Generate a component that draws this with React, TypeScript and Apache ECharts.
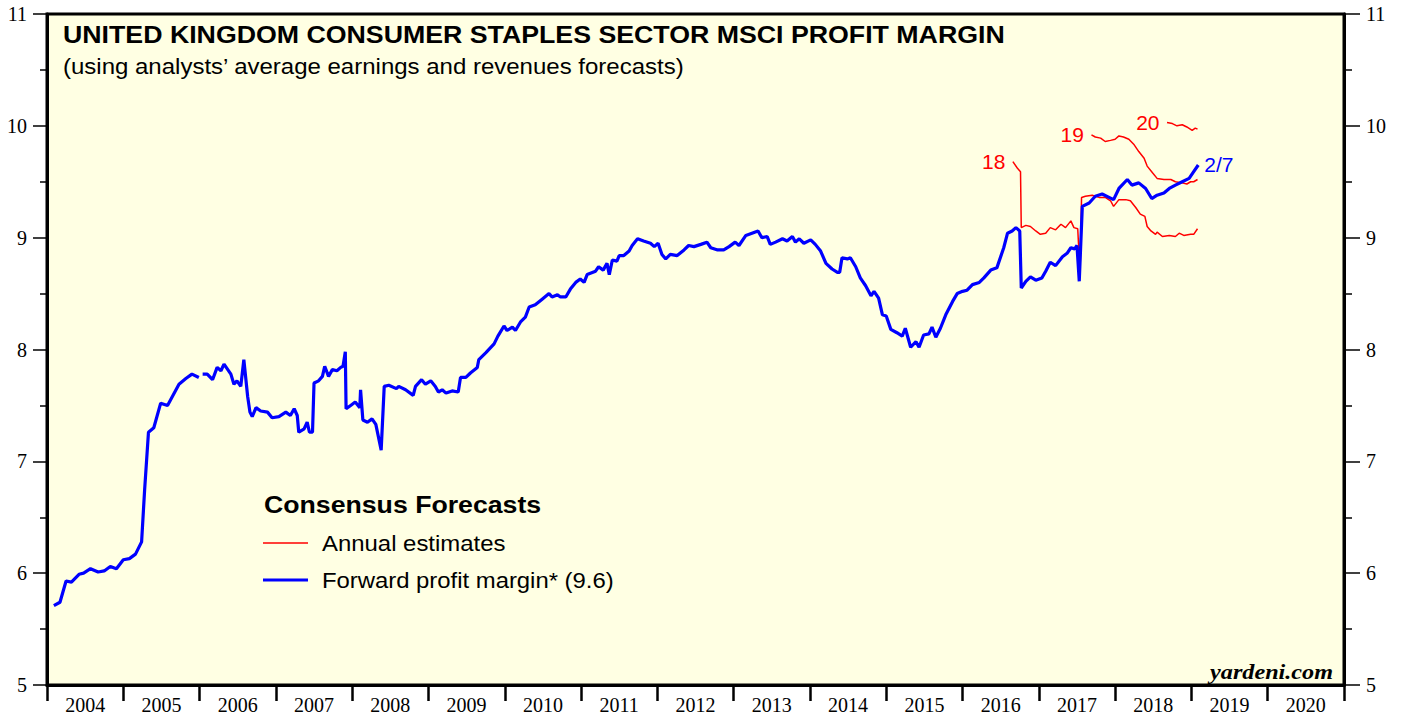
import React, { useEffect, useRef } from "react";
import * as echarts from "echarts";

const yearLabels = ["2004","2005","2006","2007","2008","2009","2010","2011","2012","2013","2014","2015","2016","2017","2018","2019","2020"];

const forwardDates = [2004.09,2004.17,2004.25,2004.32,2004.42,2004.48,2004.57,2004.67,2004.75,2004.83,2004.91,2005.00,2005.08,2005.16,2005.24,2005.28,2005.33,2005.40,2005.49,2005.58,2005.73,2005.82,2005.90,2005.99,2006.02,2006.04,2006.10,2006.17,2006.23,2006.28,2006.32,2006.41,2006.45,2006.49,2006.54,2006.58,2006.63,2006.66,2006.69,2006.74,2006.80,2006.89,2006.95,2007.04,2007.13,2007.19,2007.24,2007.28,2007.30,2007.37,2007.41,2007.44,2007.48,2007.50,2007.56,2007.61,2007.64,2007.69,2007.74,2007.80,2007.85,2007.88,2007.91,2007.92,2007.98,2008.04,2008.10,2008.11,2008.14,2008.20,2008.26,2008.31,2008.38,2008.42,2008.48,2008.58,2008.61,2008.70,2008.80,2008.83,2008.91,2008.96,2009.03,2009.09,2009.13,2009.18,2009.23,2009.31,2009.39,2009.42,2009.49,2009.55,2009.64,2009.66,2009.75,2009.86,2009.91,2009.99,2010.03,2010.10,2010.14,2010.21,2010.27,2010.32,2010.40,2010.49,2010.58,2010.62,2010.69,2010.73,2010.80,2010.86,2010.93,2010.99,2011.04,2011.08,2011.19,2011.23,2011.29,2011.34,2011.37,2011.41,2011.47,2011.50,2011.56,2011.63,2011.67,2011.74,2011.82,2011.91,2011.96,2012.01,2012.06,2012.11,2012.17,2012.26,2012.35,2012.41,2012.48,2012.57,2012.65,2012.70,2012.79,2012.87,2012.94,2013.02,2013.07,2013.16,2013.24,2013.32,2013.37,2013.44,2013.48,2013.55,2013.64,2013.70,2013.77,2013.81,2013.86,2013.92,2014.01,2014.07,2014.14,2014.21,2014.29,2014.36,2014.39,2014.42,2014.49,2014.53,2014.60,2014.66,2014.73,2014.80,2014.84,2014.90,2014.95,2015.00,2015.06,2015.14,2015.21,2015.25,2015.32,2015.39,2015.43,2015.49,2015.56,2015.60,2015.65,2015.71,2015.78,2015.87,2015.93,2016.00,2016.06,2016.13,2016.22,2016.28,2016.37,2016.45,2016.54,2016.59,2016.65,2016.70,2016.75,2016.77,2016.83,2016.89,2016.96,2017.04,2017.09,2017.15,2017.22,2017.31,2017.37,2017.42,2017.47,2017.50,2017.53,2017.57,2017.66,2017.74,2017.83,2017.92,2017.98,2018.05,2018.16,2018.22,2018.31,2018.40,2018.48,2018.55,2018.64,2018.71,2018.79,2018.88,2018.97,2019.03,2019.09];
const forwardMargin = [5.71,5.74,5.93,5.92,5.99,6.00,6.04,6.01,6.02,6.06,6.04,6.12,6.13,6.17,6.28,6.75,7.26,7.30,7.52,7.50,7.69,7.74,7.78,7.75,null,7.78,7.78,7.73,7.84,7.81,7.87,7.78,7.69,7.72,7.67,7.91,7.58,7.44,7.40,7.48,7.45,7.44,7.39,7.40,7.44,7.41,7.47,7.41,7.26,7.29,7.35,7.26,7.26,7.70,7.72,7.76,7.85,7.76,7.82,7.81,7.84,7.85,7.98,7.47,7.50,7.53,7.48,7.64,7.37,7.35,7.38,7.33,7.10,7.67,7.68,7.65,7.67,7.64,7.59,7.67,7.73,7.69,7.72,7.67,7.62,7.64,7.61,7.63,7.62,7.75,7.75,7.79,7.84,7.91,7.97,8.05,8.12,8.21,8.17,8.20,8.17,8.25,8.29,8.38,8.40,8.45,8.50,8.47,8.49,8.47,8.47,8.54,8.60,8.63,8.60,8.67,8.70,8.74,8.71,8.77,8.67,8.80,8.79,8.84,8.84,8.88,8.93,8.99,8.97,8.95,8.92,8.95,8.85,8.81,8.85,8.84,8.89,8.93,8.92,8.94,8.96,8.91,8.89,8.89,8.92,8.96,8.93,9.02,9.04,9.06,9.00,9.01,8.94,8.96,8.99,8.97,9.01,8.96,8.99,8.95,8.98,8.94,8.88,8.77,8.72,8.69,8.69,8.82,8.81,8.82,8.74,8.64,8.57,8.48,8.52,8.46,8.31,8.30,8.18,8.15,8.12,8.19,8.02,8.07,8.02,8.13,8.14,8.20,8.11,8.19,8.31,8.43,8.50,8.52,8.53,8.58,8.60,8.64,8.71,8.73,8.91,9.04,9.06,9.09,9.06,8.55,8.61,8.65,8.62,8.64,8.70,8.78,8.75,8.83,8.86,8.91,8.90,8.93,8.61,9.28,9.31,9.37,9.39,9.36,9.34,9.44,9.52,9.47,9.49,9.44,9.35,9.38,9.40,9.44,9.47,9.50,9.53,9.59,9.65];

const est18Dates = [2016.66,2016.72,2016.76,2016.77,2016.83,2016.89,2016.96,2017.02,2017.09,2017.15,2017.22,2017.29,2017.35,2017.42,2017.46,2017.51,2017.54,2017.56,2017.61,2017.70,2017.79,2017.87,2017.94,2017.98,2018.05,2018.14,2018.20,2018.27,2018.33,2018.39,2018.42,2018.47,2018.53,2018.55,2018.62,2018.71,2018.79,2018.84,2018.90,2018.99,2019.03,2019.08];
const est18Values = [9.68,9.62,9.59,9.09,9.11,9.10,9.06,9.03,9.04,9.09,9.07,9.12,9.09,9.15,9.09,9.08,8.68,9.36,9.37,9.38,9.36,9.36,9.33,9.28,9.34,9.34,9.33,9.27,9.21,9.19,9.10,9.06,9.03,9.05,9.01,9.02,9.01,9.04,9.02,9.03,9.03,9.08];

const est19Dates = [2017.69,2017.74,2017.81,2017.87,2017.94,2018.00,2018.05,2018.11,2018.18,2018.25,2018.31,2018.38,2018.42,2018.49,2018.55,2018.64,2018.73,2018.79,2018.88,2018.94,2018.99,2019.03,2019.08];
const est19Values = [9.92,9.90,9.89,9.86,9.87,9.88,9.91,9.90,9.88,9.83,9.77,9.71,9.64,9.58,9.53,9.52,9.52,9.50,9.49,9.48,9.50,9.50,9.52];

const est20Dates = [2018.68,2018.75,2018.81,2018.88,2018.94,2019.01,2019.05,2019.08];
const est20Values = [10.03,10.02,10.00,10.01,9.99,9.96,9.98,9.97];

const SERIF = '"Liberation Serif", "Times New Roman", serif';
const SANS = '"Liberation Sans", Arial, Helvetica, sans-serif';
const RED = "#FF0000";
const BLUE = "#0000FF";

function zip(d: number[], v: (number | null)[]) {
  return d.map((x, i) => [x, v[i] === null ? "-" : v[i]]);
}

function estSeries(name: string, d: number[], v: number[]) {
  const data = zip(d, v);
  return {
    name,
    type: "line",
    xAxisIndex: 1,
    yAxisIndex: 0,
    data,
    showSymbol: false,
    silent: true,
    lineStyle: { color: RED, width: 1.5 },
    z: 3,
    markPoint: {
      symbol: "circle",
      symbolSize: 1,
      itemStyle: { color: "rgba(0,0,0,0)" },
      silent: true,
      data: [{ coord: data[0], value: name }],
      label: {
        show: true,
        position: "left",
        distance: 7,
        formatter: name,
        color: RED,
        fontSize: 21,
        fontFamily: SANS,
      },
    },
  };
}

function txt(text: string, x: number, y: number, size: number, sx: number, extra: any = {}) {
  return {
    type: "text",
    x,
    y,
    scaleX: sx,
    z: 100,
    style: {
      text,
      fontSize: size,
      fontFamily: SANS,
      fill: "#000",
      align: "left",
      verticalAlign: "middle",
      ...extra,
    },
  };
}

export default function App() {
  const ref = useRef<HTMLDivElement>(null);
  useEffect(() => {
    if (!ref.current) return;
    const chart = echarts.init(ref.current, undefined, { renderer: "svg" });
    const yBase = {
      type: "value",
      min: 5,
      max: 11,
      interval: 1,
      splitLine: { show: false },
      axisLine: { show: true, lineStyle: { color: "#000", width: 3 } },
      minorSplitLine: { show: false },
    };
    const option: any = {
      animation: false,
      backgroundColor: "#FFFFFF",
      grid: {
        left: 47,
        right: 59,
        top: 14,
        bottom: 28,
        show: true,
        backgroundColor: "#FFFFE3",
        borderColor: "#000",
        borderWidth: 3,
      },
      xAxis: [
        {
          type: "category",
          data: yearLabels,
          position: "bottom",
          boundaryGap: true,
          axisLine: { show: true, lineStyle: { color: "#000", width: 3 } },
          axisTick: { show: true, length: 16, alignWithLabel: false, lineStyle: { color: "#000", width: 2.5 } },
          axisLabel: { interval: 0, fontSize: 20, fontFamily: SERIF, color: "#000", margin: 10 },
          splitLine: { show: false },
        },
        { type: "value", min: 2004, max: 2021, show: false },
      ],
      yAxis: [
        {
          ...yBase,
          position: "left",
          axisTick: { show: true, length: 14, lineStyle: { color: "#000", width: 1.5 } },
          minorTick: { show: true, splitNumber: 2, length: 7, lineStyle: { color: "#000", width: 1.5 } },
          axisLabel: { fontSize: 20, fontFamily: SERIF, color: "#000", margin: 20 },
        },
        {
          ...yBase,
          position: "right",
          axisTick: { show: true, length: 16, lineStyle: { color: "#000", width: 1.5 } },
          minorTick: { show: true, splitNumber: 2, length: 8, lineStyle: { color: "#000", width: 1.5 } },
          axisLabel: { fontSize: 20, fontFamily: SERIF, color: "#000", margin: 22 },
        },
      ],
      series: [
        {
          name: "Forward profit margin",
          type: "line",
          xAxisIndex: 1,
          yAxisIndex: 0,
          data: zip(forwardDates, forwardMargin),
          showSymbol: false,
          connectNulls: false,
          silent: true,
          lineStyle: { color: BLUE, width: 3.2 },
          z: 4,
          endLabel: {
            show: true,
            formatter: "2/7",
            color: BLUE,
            fontSize: 21,
            fontFamily: SANS,
            distance: 6,
          },
        },
        estSeries("18", est18Dates, est18Values),
        estSeries("19", est19Dates, est19Values),
        estSeries("20", est20Dates, est20Values),
      ],
      graphic: [
        txt("UNITED KINGDOM CONSUMER STAPLES SECTOR MSCI PROFIT MARGIN", 63, 34, 24, 1.114, { fontWeight: "bold" }),
        txt("(using analysts\u2019 average earnings and revenues forecasts)", 63, 66, 22, 1.091),
        txt("Consensus Forecasts", 264, 504, 24, 1.112, { fontWeight: "bold" }),
        {
          type: "line",
          z: 100,
          shape: { x1: 263, y1: 543, x2: 308, y2: 543 },
          style: { stroke: RED, lineWidth: 1.5 },
        },
        txt("Annual estimates", 322, 543, 22, 1.088),
        {
          type: "line",
          z: 100,
          shape: { x1: 263, y1: 580, x2: 308, y2: 580 },
          style: { stroke: BLUE, lineWidth: 3 },
        },
        txt("Forward profit margin* (9.6)", 322, 580, 22, 1.085),
        txt("yardeni.com", 1333, 671, 22, 1.1, {
          fontWeight: "bold",
          fontStyle: "italic",
          fontFamily: SERIF,
          align: "right",
        }),
      ],
    };
    chart.setOption(option);
    return () => chart.dispose();
  }, []);
  return (
    <div
      ref={ref}
      style={{ position: "fixed", left: 0, top: 0, width: 1403, height: 715, background: "#fff" }}
    />
  );
}
